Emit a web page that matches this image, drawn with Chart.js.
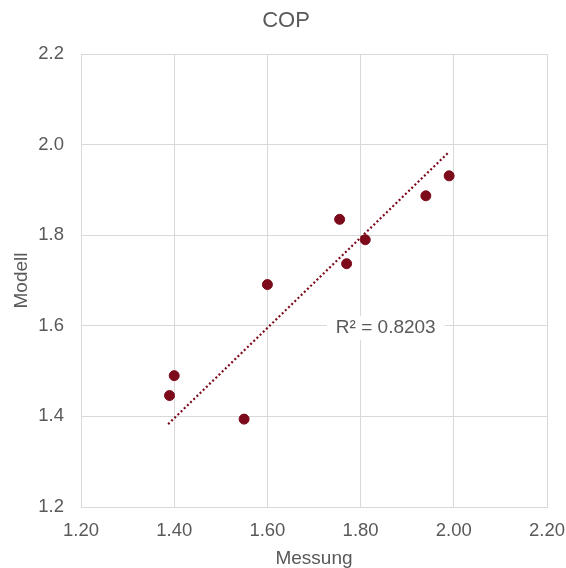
<!DOCTYPE html>
<html>
<head>
<meta charset="utf-8">
<script src="https://cdn.jsdelivr.net/npm/chart.js@4"></script>
<style>
    html, body { margin: 0; padding: 0; background: #fff; }
    #wrap { width: 566px; height: 568px; }
</style>
</head>
<body>
<div id="wrap"><canvas id="copChart" width="566" height="568"></canvas></div>
<script>
// Data
const messung = [1.39, 1.40, 1.55, 1.60, 1.755, 1.77, 1.81, 1.94, 1.99];
const modell = [1.446, 1.49, 1.394, 1.691, 1.835, 1.737, 1.79, 1.887, 1.931];

// Trendline end points (as drawn in the reference)
const trendX = [1.387, 1.99];
const trendY = [1.383, 1.984];
const r2Label = 'R² = 0.8203';
const chartTitle = 'COP';

// Axis ticks
const xTicks = [1.20, 1.40, 1.60, 1.80, 2.00, 2.20];
const yTicks = [1.2, 1.4, 1.6, 1.8, 2.0, 2.2];

const FONT = "'Liberation Sans', Arial, sans-serif";
const TEXT = '#595959';
const GRID = '#d9d9d9';
const RED = '#7c0a1b';

// Chart title and R² label (label gets a white box behind it)
const labelPlugin = {
    id: 'labels',
    afterDraw(chart) {
        const ctx = chart.ctx;
        ctx.save();
        ctx.textAlign = 'center';
        ctx.textBaseline = 'middle';
        ctx.font = '22px ' + FONT;
        ctx.fillStyle = TEXT;
        ctx.fillText(chartTitle, 286, 21);
        ctx.restore();
    },
    afterDatasetsDraw(chart) {
        const ctx = chart.ctx;
        const x = chart.scales.x.getPixelForValue(1.854);
        const y = chart.scales.y.getPixelForValue(1.595);
        ctx.save();
        ctx.font = '19px ' + FONT;
        const w = ctx.measureText(r2Label).width;
        ctx.fillStyle = '#fff';
        ctx.fillRect(x - w / 2 - 9, y - 12, w + 18, 24);
        ctx.fillStyle = TEXT;
        ctx.textAlign = 'center';
        ctx.textBaseline = 'middle';
        ctx.fillText(r2Label, x, y);
        ctx.restore();
    }
};

const points = messung.map((v, i) => ({ x: v, y: modell[i] }));
const trend = trendX.map((v, i) => ({ x: v, y: trendY[i] }));

new Chart(document.getElementById('copChart').getContext('2d'), {
    type: 'scatter',
    data: {
        datasets: [{
            label: 'Trend',
            type: 'line',
            data: trend,
            borderColor: RED,
            borderWidth: 2.2,
            borderDash: [2, 2.4],
            pointRadius: 0,
            fill: false,
            order: 2
        }, {
            label: 'COP',
            data: points,
            backgroundColor: RED,
            borderColor: RED,
            pointRadius: 5,
            pointHoverRadius: 5,
            order: 1
        }]
    },
    options: {
        responsive: false,
        animation: false,
        layout: { padding: { left: 0, right: 19, top: 54, bottom: 0 } },
        plugins: {
            legend: { display: false },
            tooltip: { enabled: false },
            title: { display: false }
        },
        scales: {
            x: {
                type: 'linear',
                min: 1.2,
                max: 2.2,
                afterBuildTicks: scale => { scale.ticks = xTicks.map(v => ({ value: v })); },
                afterFit: scale => {
                    scale.height = 61;
                    scale.paddingLeft = 0;
                    scale.paddingRight = 0;
                },
                grid: { color: GRID, drawTicks: false },
                border: { color: GRID },
                ticks: {
                    color: TEXT,
                    padding: 13,
                    font: { family: FONT, size: 18.5 },
                    callback: v => v.toFixed(2)
                },
                title: {
                    display: true,
                    text: 'Messung',
                    color: TEXT,
                    font: { family: FONT, size: 19, lineHeight: 1.0 },
                    padding: { top: 0, bottom: 0 }
                }
            },
            y: {
                type: 'linear',
                min: 1.2,
                max: 2.2,
                afterBuildTicks: scale => { scale.ticks = yTicks.map(v => ({ value: v })); },
                afterFit: scale => {
                    scale.width = 81;
                    scale.paddingTop = 0;
                    scale.paddingBottom = 0;
                },
                grid: { color: GRID, drawTicks: false },
                border: { color: GRID },
                ticks: {
                    color: TEXT,
                    padding: 17,
                    font: { family: FONT, size: 18.5 },
                    callback: v => v.toFixed(1)
                },
                title: {
                    display: true,
                    text: 'Modell',
                    color: TEXT,
                    font: { family: FONT, size: 19 },
                    padding: { top: 10, bottom: 0 }
                }
            }
        }
    },
    plugins: [labelPlugin]
});
</script>
</body>
</html>
